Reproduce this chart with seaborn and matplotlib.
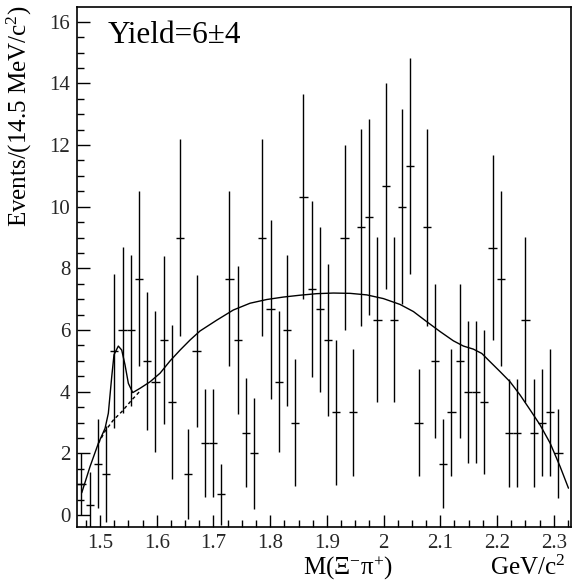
import numpy as np
import matplotlib
matplotlib.use("Agg")
import matplotlib.pyplot as plt
import seaborn as sns
from matplotlib.ticker import MultipleLocator

# ---- data ----
bin_lo = 1.46
bin_width = 0.0145
counts = [1.0, 0.33, 1.67, 1.33, 5.33, 6.0, 6.0, 7.67, 5.0, 4.33,
          5.67, 3.67, 9.0, 1.33, 5.33, 2.33, 2.33, 0.67, 7.67, 5.67,
          2.67, 2.0, 9.0, 6.67, 4.33, 6.0, 3.0, 10.33, 7.33, 6.67,
          5.67, 3.33, 9.0, 3.33, 9.33, 9.67, 6.33, 10.67, 6.33, 10.0,
          11.33, 3.0, 9.33, 5.0, 1.67, 3.33, 5.0, 4.0, 4.0, 3.67,
          8.67, 7.67, 2.67, 2.67, 6.33, 2.67, 3.0, 3.33, 2.0]
errors = [1.0, 1.08, 1.43, 1.55, 2.5, 2.7, 2.45, 2.83, 2.23, 2.28,
          2.73, 2.5, 3.2, 1.47, 2.47, 1.75, 1.75, 1.0, 2.83, 2.4,
          1.77, 1.8, 3.2, 2.9, 2.28, 2.45, 2.07, 3.33, 2.86, 2.67,
          2.46, 2.36, 3.0, 2.05, 3.2, 3.17, 2.68, 3.33, 2.68, 3.17,
          3.5, 1.72, 3.19, 2.5, 1.45, 2.05, 2.5, 2.3, 2.3, 2.33,
          3.0, 2.84, 1.75, 1.75, 2.68, 1.75, 1.72, 2.05, 1.45]

fit_x = [1.4678, 1.4824, 1.497, 1.5089, 1.5147, 1.5207, 1.5247, 1.5323,
         1.5383, 1.5441, 1.55, 1.5577, 1.5706, 1.5882, 1.6059, 1.6236,
         1.6412, 1.659, 1.6764, 1.7058, 1.7351, 1.7646, 1.794, 1.8233,
         1.8528, 1.8822, 1.9115, 1.941, 1.9704, 1.9997, 2.0291, 2.0526,
         2.0762, 2.0997, 2.1231, 2.1408, 2.1584, 2.1732, 2.1879, 2.2055,
         2.2231, 2.2408, 2.2584, 2.276, 2.2937, 2.3113, 2.326]
fit_y = [0.72, 1.57, 2.32, 2.81, 3.3, 4.49, 5.2, 5.48,
         5.35, 4.87, 4.27, 3.97, 4.11, 4.32, 4.6, 5.0,
         5.35, 5.68, 5.97, 6.32, 6.65, 6.87, 6.99, 7.07,
         7.13, 7.18, 7.2, 7.19, 7.14, 7.02, 6.83, 6.6,
         6.27, 5.95, 5.65, 5.48, 5.38, 5.24, 4.97, 4.65,
         4.32, 3.89, 3.41, 2.92, 2.33, 1.57, 0.87]

bkg_x = [1.497, 1.509, 1.5235, 1.5383, 1.556, 1.5706]
bkg_y = [2.32, 2.72, 3.08, 3.35, 3.73, 4.02]

yield_text = "Yield=6\u00b14"
x_ticks = [1.5, 1.6, 1.7, 1.8, 1.9, 2.0, 2.1, 2.2, 2.3]
x_tick_labels = ["1.5", "1.6", "1.7", "1.8", "1.9", "2", "2.1", "2.2", "2.3"]
y_ticks = [0, 2, 4, 6, 8, 10, 12, 14, 16]

centers = [bin_lo + bin_width * (i + 0.5) for i in range(len(counts))]

# ---- style ----
sns.set_theme(style="white")
plt.rcParams["font.family"] = ["Liberation Serif", "DejaVu Serif"]
plt.rcParams["mathtext.fontset"] = "custom"
plt.rcParams["mathtext.rm"] = "Liberation Serif"
plt.rcParams["mathtext.it"] = "Liberation Serif:italic"

fig = plt.figure(figsize=(5.74, 5.83), dpi=100)
ax = fig.add_axes([0.1347, 0.0955, 0.8596, 0.892])

ax.errorbar(centers, counts, yerr=errors, xerr=bin_width / 2, fmt="none",
            ecolor="black", elinewidth=1.0, capsize=0)

sns.lineplot(x=fit_x, y=fit_y, ax=ax, color="black", linewidth=1.0,
             sort=True, estimator=None)
ax.plot(bkg_x, bkg_y, color="black", linewidth=1.0, linestyle=(0, (2.5, 2)))

ax.set_xlim(1.46, 2.33)
ax.set_ylim(-0.4, 16.47)
ax.set_xticks(x_ticks)
ax.set_xticklabels(x_tick_labels)
ax.set_yticks(y_ticks)
ax.xaxis.set_minor_locator(MultipleLocator(0.025))
ax.yaxis.set_minor_locator(MultipleLocator(0.5))
ax.tick_params(axis="both", which="major", direction="in", length=9,
               width=1.0, color="black", labelsize=15, pad=5,
               top=False, right=False, bottom=True, left=True)
ax.tick_params(axis="both", which="minor", direction="in", length=5,
               width=1.0, color="black",
               top=False, right=False, bottom=True, left=True)
for s in ax.spines.values():
    s.set_color("black")
    s.set_linewidth(1.2)
ax.grid(False)

ax.set_xlabel("")
ax.set_ylabel("")

ax.text(0.062, 0.931, yield_text, transform=ax.transAxes, fontsize=22.5,
        ha="left", va="baseline", color="black")

fig.text(0.033, 0.99, "Events/(14.5 MeV/c$^{2}$)", rotation=90,
         ha="center", va="top", fontsize=18, color="black")
fig.text(0.606, 0.014, "M(\u039e$^{-}$\u03c0$^{+}$)", ha="center",
         va="baseline", fontsize=18, color="black")
fig.text(0.985, 0.014, "GeV/c$^{2}$", ha="right", va="baseline",
         fontsize=18, color="black")

fig.savefig("out.png", dpi=100)
